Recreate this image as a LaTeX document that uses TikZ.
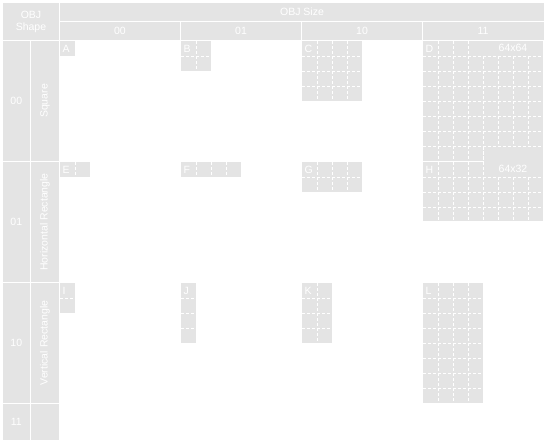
\documentclass[tikz,border=0pt]{standalone}
\usepackage{fontspec}
\setmainfont{Liberation Sans}
\definecolor{boxgray}{RGB}{228,228,228}
\tikzset{
  txt/.style={inner sep=0pt, text=white, font=\fontsize{10.5}{12}\selectfont, align=center},
  gridln/.style={white, line width=1pt, dash pattern=on 3pt off 2pt},
  lbl/.style={anchor=base west, inner sep=0pt, text=white, font=\fontsize{10.5}{12}\selectfont},
  sizelbl/.style={anchor=base, inner sep=0pt, text=white, font=\fontsize{10.5}{12}\selectfont},
}
% name, x, y, w, h, label
\newcommand\objgrid[6]{%
  \fill[boxgray] (#2,#3) rectangle ++(15*#4,15*#5);
  \foreach \i in {1,...,7}{\ifnum\i<#4 \draw[gridln] (#2+15*\i,#3) -- ++(0,15*#5);\fi}
  \foreach \j in {1,...,7}{\ifnum\j<#5 \draw[gridln] (#2,#3+15*\j) -- ++(15*#4,0);\fi}
  \node[lbl] (#1) at (#2+2.5,#3+11) {#6};
}
\begin{document}
\begin{tikzpicture}[x=1pt,y=-1pt]
\useasboundingbox (0,0) rectangle (544,442);
% header
\fill[boxgray] (3,3) rectangle (59,40);
\node[txt] (shape) at (31,21.5) {OBJ\\Shape};
\fill[boxgray] (60,3) rectangle (544,21);
\node[txt] (size) at (302,12) {OBJ Size};
\foreach \c/\t in {0/00,1/01,2/10}{
  \fill[boxgray] (60+121*\c,22) rectangle ++(120,18);
  \node[txt] (col\t) at (120+121*\c,31) {\t};
}
\fill[boxgray] (423,22) rectangle (544,40);
\node[txt] (col11) at (483,31) {11};
% rows
\foreach \r/\t/\n in {0/00/Square,1/01/Horizontal Rectangle,2/10/Vertical Rectangle}{
  \fill[boxgray] (3,41+121*\r) rectangle ++(26.7,120);
  \fill[boxgray] (30.7,41+121*\r) rectangle ++(28.3,120);
  \node[txt] (row\t) at (16.3,101+121*\r) {\t};
  \node[txt, rotate=90] (name\t) at (45,101+121*\r) {\n};
}
\fill[boxgray] (3,404) rectangle (29.7,440);
\fill[boxgray] (30.7,404) rectangle (59,440);
\node[txt] (row11) at (16.3,422) {11};
% squares
\objgrid{A}{60}{41}{1}{1}{A}
\objgrid{B}{181}{41}{2}{2}{B}
\objgrid{C}{302}{41}{4}{4}{C}
\fill[boxgray] (423,41) rectangle (543,160.5);
\foreach \i in {1,...,7}{\draw[gridln] (423+15*\i,41) -- (423+15*\i,160.5);}
\foreach \j in {1,...,7}{\draw[gridln] (423,41+15*\j) -- (543,41+15*\j);}
\node[lbl] (D) at (425.5,52) {D};
\fill[boxgray] (482.5,41) rectangle (543,55.5);
\node[sizelbl] (Dsize) at (513,51) {64x64};
% horizontal rectangles
\objgrid{E}{60}{162}{2}{1}{E}
\objgrid{F}{181}{162}{4}{1}{F}
\objgrid{G}{302}{162}{4}{2}{G}
\fill[boxgray] (423,161.5) rectangle (543,221);
\foreach \i in {1,...,7}{\draw[gridln] (423+15*\i,161.5) -- (423+15*\i,221);}
\foreach \j in {1,...,3}{\draw[gridln] (423,162+15*\j) -- (543,162+15*\j);}
\node[lbl] (H) at (425.5,173) {H};
\fill[boxgray] (483.5,146.5) rectangle (543,176.5);
\draw[gridln] (483,146.5) -- (483,160.5);
\node[sizelbl] (Hsize) at (513,172) {64x32};
% vertical rectangles
\objgrid{I}{60}{283}{1}{2}{I}
\objgrid{J}{181}{283}{1}{4}{J}
\objgrid{K}{302}{283}{2}{4}{K}
\objgrid{L}{423}{283}{4}{8}{L}
\end{tikzpicture}
\end{document}
